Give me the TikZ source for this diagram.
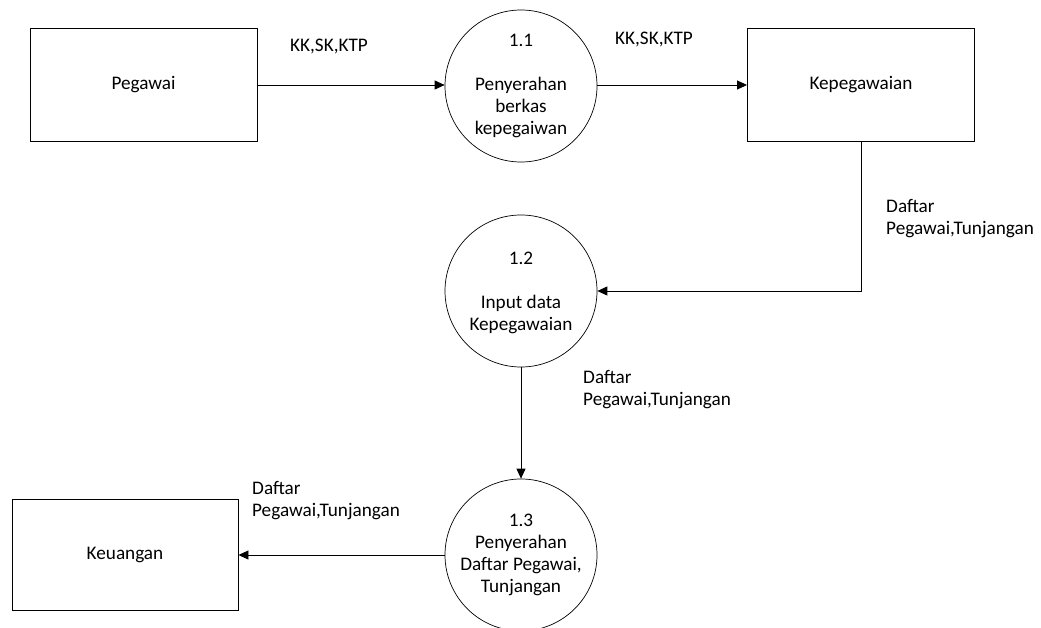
\documentclass[tikz,border=0pt]{standalone}
\usepackage{fontspec}
\setmainfont{Carlito}
\usetikzlibrary{arrows.meta}
\begin{document}
\begin{tikzpicture}[x=1pt,y=-1pt,
  every node/.style={font=\fontsize{19.2}{22}\selectfont},
  entity/.style={draw, line width=0.9pt, minimum width=227pt, minimum height=113pt, inner sep=0pt},
  process/.style={draw, line width=0.7pt, circle, minimum size=152pt, inner sep=0pt, align=center},
  flow/.style={line width=0.9pt, -{Triangle[length=10pt,width=9pt]}},
  lbl/.style={inner sep=0pt, align=left, anchor=north west}]
  \clip (0,0) rectangle (1041,628);
  \fill[white] (0,0) rectangle (1041,628);

  % external entities
  \node[entity] (peg) at (143.5,85) {\raisebox{-2pt}{Pegawai}};
  \node[entity] (kep) at (861,85) {\raisebox{-2pt}{Kepegawaian}};
  \node[entity, minimum width=226pt, minimum height=111pt] (keu) at (125,555) {\raisebox{-2pt}{Keuangan}};

  % processes
  \node[process] (p1) at (521,86) {1.1\\[22pt]Penyerahan\\berkas\\kepegaiwan};
  \node[process] (p2) at (521,291) {\\[-6pt]1.2\\[22pt]Input data\\Kepegawaian};
  \node[process] (p3) at (521,555) {1.3\\Penyerahan\\Daftar Pegawai,\\Tunjangan};

  % data flows
  \draw[flow] (peg.east) -- (peg.east -| p1.west);
  \draw[flow] (p1.east |- kep.west) -- (kep.west);
  \coordinate (bend) at (kep.south |- p2.east);
  \draw[flow] (kep.south) -- (bend) -- (p2.east);
  \draw[flow] (p2.south) -- (p3.north);
  \draw[flow] (p3.west) -- (keu.east);

  % flow labels
  \node[inner sep=0pt] (l1) at (329,47) {KK,SK,KTP};
  \node[inner sep=0pt] (l2) at (654,40) {KK,SK,KTP};
  \node[lbl] (l3) at (886,199) {Daftar\\Pegawai,Tunjangan};
  \node[lbl] (l4) at (583,370) {Daftar\\Pegawai,Tunjangan};
  \node[lbl] (l5) at (252,481) {Daftar\\Pegawai,Tunjangan};
\end{tikzpicture}
\end{document}
